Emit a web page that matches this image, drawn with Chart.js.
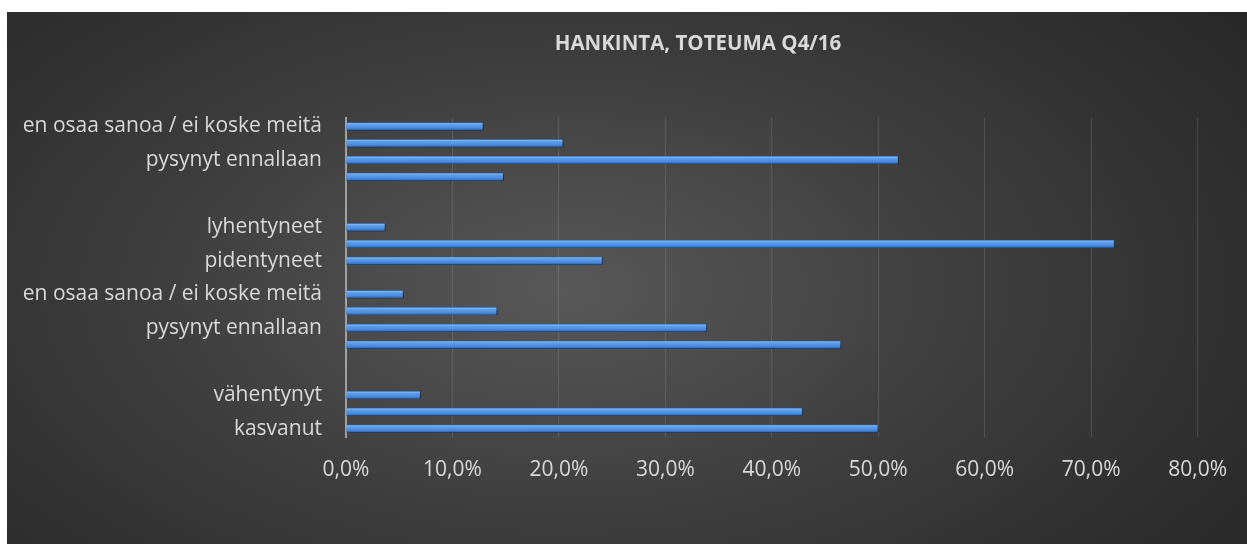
<!DOCTYPE html>
<html>
<head>
<meta charset="utf-8">
<script src="https://cdn.jsdelivr.net/npm/chart.js@4/dist/chart.umd.min.js"></script>
<style>
  html, body { margin: 0; padding: 0; background: #ffffff; width: 1247px; height: 544px; overflow: hidden; }
  #wrap {
    position: absolute; left: 7px; top: 12px; width: 1240px; height: 532px;
    background: radial-gradient(ellipse 70% 90% at 45% 52%, #585858 0%, #3c3c3c 50%, #262626 100%);
  }
  canvas { display: block; }
</style>
</head>
<body>
<div id="wrap"><canvas id="c" width="1240" height="532"></canvas></div>
<script>
// ---- data (top to bottom, as shown) ----
const chartTitle = "HANKINTA, TOTEUMA Q4/16";
const categories = [
  "en osaa sanoa / ei koske meitä", "", "pysynyt ennallaan", "", "", "",
  "lyhentyneet", "", "pidentyneet", "",
  "en osaa sanoa / ei koske meitä", "", "pysynyt ennallaan", "", "", "",
  "vähentynyt", "", "kasvanut"
];
const values = [
  12.9, 20.4, 51.9, 14.8, null, null,
  3.7, 72.2, 24.1, null,
  5.4, 14.2, 33.9, 46.5, null, null,
  7.0, 42.9, 50.0
];
const xTicks = { min: 0, max: 80, step: 10 };

const FONT = "'Open Sans', 'DejaVu Sans', sans-serif";
const TEXT = '#d9d9d9';
const BAR_T = 8;

function barGradient(ctx) {
  const chart = ctx.chart;
  const ys = chart.scales && chart.scales.y;
  if (!ys || ctx.dataIndex === undefined) return '#4a8ddf';
  const y = ys.getPixelForValue(ctx.dataIndex);
  if (!isFinite(y)) return '#4a8ddf';
  const g = chart.ctx.createLinearGradient(0, y - BAR_T / 2, 0, y + BAR_T / 2);
  g.addColorStop(0, '#2f65ad');
  g.addColorStop(0.15, '#7ab4f2');
  g.addColorStop(0.32, '#5b9de9');
  g.addColorStop(0.68, '#4a8de0');
  g.addColorStop(0.85, '#3a75c4');
  g.addColorStop(1, '#1d477f');
  return g;
}

const shadowPlugin = {
  id: 'barShadow',
  beforeDatasetsDraw(chart) {
    const c = chart.ctx;
    c.save();
    c.shadowColor = 'rgba(0,0,0,0.6)';
    c.shadowBlur = 4;
    c.shadowOffsetX = 1;
    c.shadowOffsetY = 3;
  },
  afterDatasetsDraw(chart) { chart.ctx.restore(); }
};

const titlePlugin = {
  id: 'offsetTitle',
  afterDraw(chart) {
    const c = chart.ctx;
    c.save();
    c.font = "bold 20.5px " + FONT;
    c.fillStyle = TEXT;
    c.textAlign = 'center';
    c.textBaseline = 'middle';
    c.fillText(chartTitle, 691, 32);
    c.restore();
  }
};

const chart = new Chart(document.getElementById('c'), {
  type: 'bar',
  data: {
    labels: categories,
    datasets: [{
      data: values,
      backgroundColor: barGradient,
      borderColor: '#1d477f',
      borderWidth: { right: 1, left: 0, top: 0, bottom: 0 },
      borderSkipped: false,
      barThickness: BAR_T
    }]
  },
  options: {
    indexAxis: 'y',
    responsive: false,
    animation: false,
    devicePixelRatio: 1,
    layout: { padding: { top: 106, right: 47, left: 0, bottom: 0 } },
    plugins: { legend: { display: false }, title: { display: false }, tooltip: { enabled: false } },
    scales: {
      x: {
        min: xTicks.min, max: xTicks.max,
        afterFit(s) { s.height = 107; },
        ticks: {
          stepSize: xTicks.step,
          color: TEXT,
          font: { family: FONT, size: 21 },
          padding: 20,
          callback: v => v.toFixed(1).replace('.', ',') + '%'
        },
        grid: {
          drawTicks: false,
          color: ctx => (ctx.tick && ctx.tick.value === 0) ? 'rgba(0,0,0,0)' : 'rgba(255,255,255,0.13)',
          lineWidth: 1
        },
        border: { display: false }
      },
      y: {
        afterFit(s) { s.width = 339; },
        ticks: {
          autoSkip: false,
          color: TEXT,
          font: { family: FONT, size: 21 },
          padding: 24
        },
        grid: { display: false, drawTicks: false },
        border: { display: true, color: '#a0a0a0', width: 2 }
      }
    }
  },
  plugins: [shadowPlugin, titlePlugin]
});
chart.update();
</script>
</body>
</html>
